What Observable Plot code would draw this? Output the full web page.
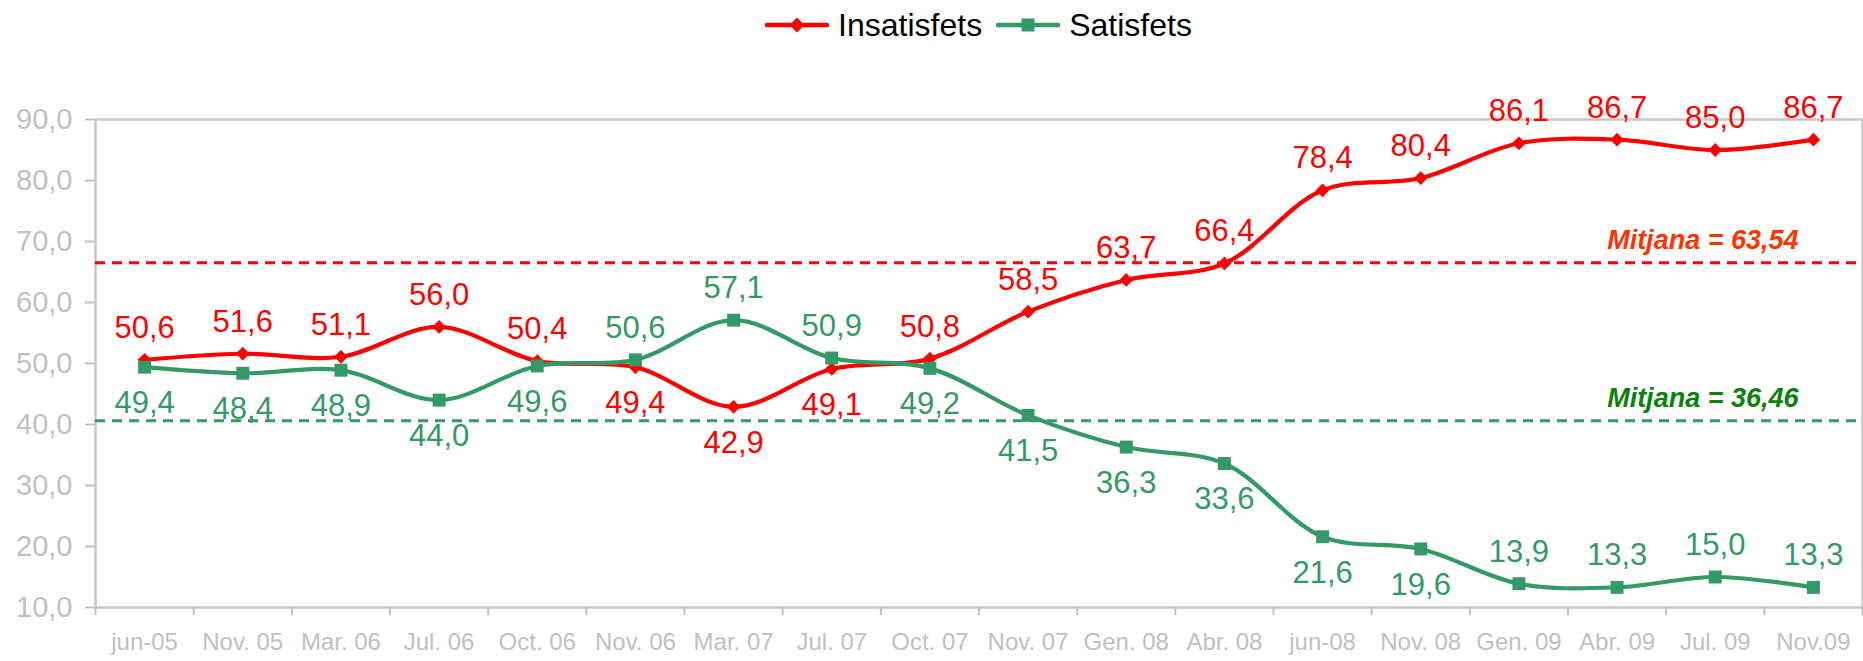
<!DOCTYPE html>
<html><head><meta charset="utf-8">
<script src="https://cdn.jsdelivr.net/npm/d3@7"></script>
<script src="https://cdn.jsdelivr.net/npm/@observablehq/plot@0.6"></script>
<style>
body{margin:0;background:#fff;font-family:"Liberation Sans",Arial,sans-serif;}
#legend{height:50px;width:1863px;box-sizing:border-box;padding-left:95px;padding-right:1px;display:flex;align-items:center;justify-content:center;font-size:32px;color:#000;}
.item{display:flex;align-items:center;}
.item svg{margin-right:9px;}
.item + .item{margin-left:14px;}
#chart svg{overflow:visible;display:block;}
</style></head><body>
<div id="legend"></div>
<div id="chart"></div>
<script>
const categories = ["jun-05","Nov. 05","Mar. 06","Jul. 06","Oct. 06","Nov. 06","Mar. 07","Jul. 07","Oct. 07","Nov. 07","Gen. 08","Abr. 08","jun-08","Nov. 08","Gen. 09","Abr. 09","Jul. 09","Nov.09"];
const insatisfets = [50.6,51.6,51.1,56.0,50.4,49.4,42.9,49.1,50.8,58.5,63.7,66.4,78.4,80.4,86.1,86.7,85.0,86.7];
const satisfets   = [49.4,48.4,48.9,44.0,49.6,50.6,57.1,50.9,49.2,41.5,36.3,33.6,21.6,19.6,13.9,13.3,15.0,13.3];
const insatLabelSide = ["above","above","above","above","above","below","below","below","above","above","above","above","above","above","above","above","above","above"];
const satLabelSide   = ["below","below","below","below","below","above","above","above","below","below","below","below","below","below","above","above","above","above"];
const seriesNames = ["Insatisfets","Satisfets"];
const seriesColors = ["#ff0000","#339966"];
const meanLabelValues = [63.54, 36.46];
const meanLineLevels = [66.5, 40.6];
const meanLabelColors = ["#ff3300","#0a820a"];
const yTicks = [10,20,30,40,50,60,70,80,90];

const fmt = v => v.toFixed(1).replace(".", ",");
const rows = [];
[insatisfets, satisfets].forEach((vals, s) => {
  const sides = s === 0 ? insatLabelSide : satLabelSide;
  vals.forEach((v, i) => rows.push({i, v, series: seriesNames[s], color: seriesColors[s], side: sides[i]}));
});
const means = meanLineLevels.map((lvl, k) => ({lvl, label: "Mitjana = " + meanLabelValues[k].toFixed(2).replace(".", ","), color: meanLabelColors[k], stroke: seriesColors[k]}));

// legend
const legend = document.getElementById("legend");
seriesNames.forEach((name, s) => {
  const item = document.createElement("div");
  item.className = "item";
  const sym = s === 0
    ? `<path d="M32,0.5 L39.5,8 L32,15.5 L24.5,8 Z" fill="${seriesColors[s]}"/>`
    : `<rect x="25.5" y="1.5" width="13" height="13" fill="${seriesColors[s]}"/>`;
  item.innerHTML = `<svg width="64" height="16"><line x1="2" x2="62" y1="8" y2="8" stroke="${seriesColors[s]}" stroke-width="4.5" stroke-linecap="round"/>${sym}</svg><span>${name}</span>`;
  legend.appendChild(item);
});

const grey = "#c0c0c0";
const textMarks = [];
seriesNames.forEach(name => {
  textMarks.push(Plot.text(rows.filter(d => d.series === name && d.side === "above"), {x: "i", y: "v", text: d => fmt(d.v), fill: "color", dy: -32, fontSize: 31}));
  textMarks.push(Plot.text(rows.filter(d => d.series === name && d.side === "below"), {x: "i", y: "v", text: d => fmt(d.v), fill: "color", dy: 36, fontSize: 31}));
});

const chart = Plot.plot({
  width: 1863,
  height: 611,
  marginLeft: 95,
  marginRight: 1,
  marginTop: 69,
  marginBottom: 54,
  style: {fontFamily: "Liberation Sans, Arial, sans-serif", background: "#fff", overflow: "visible"},
  x: {domain: [-0.5, categories.length - 0.5], label: null},
  y: {domain: [10, 90], label: null},
  marks: [
    Plot.frame({stroke: "#c8c8c8", strokeWidth: 2.5}),
    Plot.axisY(yTicks, {tickSize: 10, tickPadding: 13, tickFormat: fmt, fontSize: 29, color: grey, strokeWidth: 2, label: null}),
    Plot.axisX(d3.range(categories.length), {tickSize: 0, tickPadding: 25, tickFormat: i => categories[i], fontSize: 24, color: grey, label: null}),
    Plot.axisX(d3.range(categories.length + 1).map(i => i - 0.5), {tickSize: 8, stroke: grey, fill: "none", strokeWidth: 2, label: null}),
    Plot.ruleY(means, {y: "lvl", stroke: "stroke", strokeWidth: 3, strokeDasharray: "10,7"}),
    Plot.text(means, {y: "lvl", text: "label", fill: "color", frameAnchor: "right", textAnchor: "end", dx: -64, dy: -22, fontSize: 27, fontWeight: "bold", fontStyle: "italic"}),
    Plot.line(rows, {x: "i", y: "v", z: "series", stroke: "color", strokeWidth: 4.2, curve: "catmull-rom"}),
    Plot.dot(rows.filter(d => d.series === seriesNames[0]), {x: "i", y: "v", symbol: "diamond2", r: 6.2, fill: "color"}),
    Plot.dot(rows.filter(d => d.series === seriesNames[1]), {x: "i", y: "v", symbol: "square", r: 7.3, fill: "color"}),
    ...textMarks
  ]
});
document.getElementById("chart").appendChild(chart);
</script>
</body></html>
